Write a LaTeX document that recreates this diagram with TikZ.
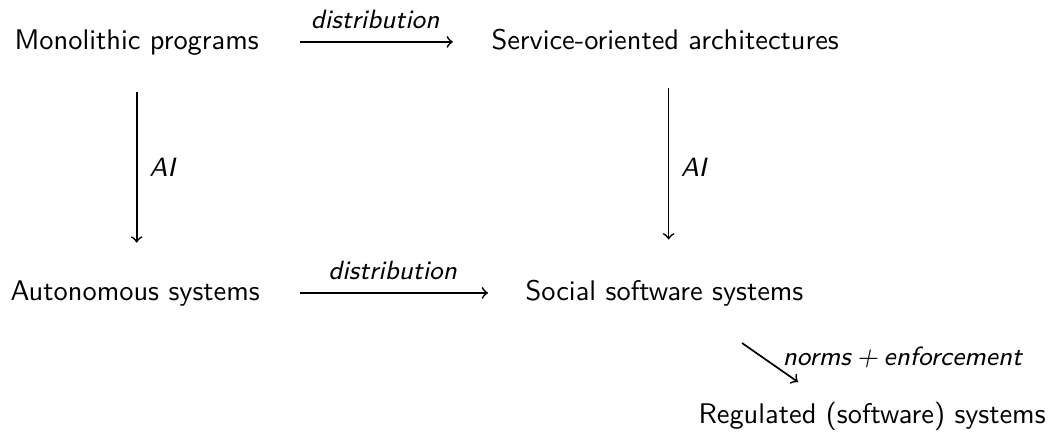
\documentclass[tikz,border=0pt]{standalone}
\usepackage{tikz}
\begin{document}
\begin{tikzpicture}[x=0.352pt,y=-0.352pt,
  obj/.style={inner sep=0pt,anchor=base west,font=\fontsize{10}{12}\sffamily,text height=7pt,text depth=2pt},
  lab/.style={inner sep=0pt,font=\fontsize{9.3}{11}\sffamily\itshape},
  arr/.style={->,line width=0.6pt}]
\useasboundingbox (0,0) rectangle (1056,447);
\node[obj] (mono) at (14,49) {Monolithic programs};
\node[obj] (soa) at (491,49) {Service-oriented architectures};
\node[obj] (auto) at (10,300) {Autonomous systems};
\node[obj] (soc) at (525,300) {Social software systems};
\node[obj] (reg) at (698,423) {Regulated (software) systems};
\draw[arr,shorten <=14.4pt,shorten >=13.4pt] (mono.east) -- node[lab,anchor=base,yshift=4.6pt]{distribution} (soa.west);
\draw[arr,shorten <=14.1pt,shorten >=13.0pt] (auto.east) -- node[lab,anchor=base,yshift=4.6pt]{distribution} (soc.west);
\draw[arr,shorten <=13.1pt,shorten >=13.0pt] (mono.south) -- node[lab,anchor=west,xshift=4.2pt]{AI} (mono.south |- auto.north);
\draw[arr,shorten <=11.7pt,shorten >=14.1pt] ([xshift=1.2pt]soa.south) -- node[lab,anchor=west,xshift=4.0pt]{AI} ([xshift=1.2pt]soa.south |- soc.north);
\coordinate (n1) at (742,343);
\coordinate (n2) at (798,382);
\draw[arr] (n1) -- node[lab,anchor=base west,xshift=4.2pt,yshift=-0.9pt]{norms\hspace{0.222em}+\hspace{0.222em}enforcement} (n2);
\end{tikzpicture}
\end{document}
